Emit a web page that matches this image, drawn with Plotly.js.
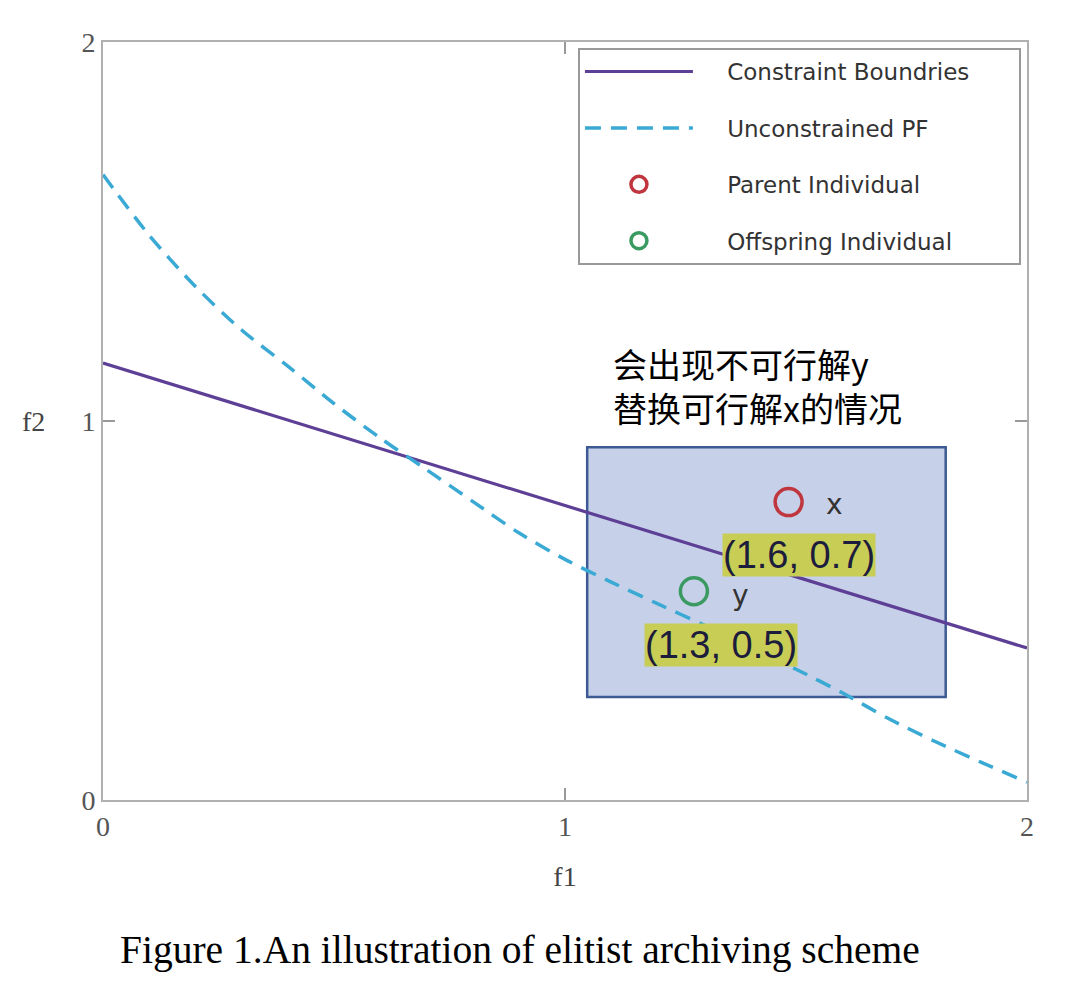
<!DOCTYPE html>
<html>
<head>
<meta charset="utf-8">
<script src="https://cdn.plot.ly/plotly-3.0.1.min.js"></script>
<style>html,body{margin:0;padding:0;background:#fff;}</style>
</head>
<body>
<div id="chart" style="width:1080px;height:988px;"></div>
<script>
// ---- data ----
const boundaryF1 = [0, 2];
const boundaryF2 = [1.153, 0.401];

const pfF1 = [0, 0.1, 0.2, 0.3, 0.4, 0.5, 0.6, 0.7, 0.8, 0.9, 1.0, 1.1, 1.2, 1.3, 1.4, 1.5, 1.6, 1.7, 1.8, 1.9, 2.0];
const pfF2 = [1.65, 1.49, 1.355, 1.24, 1.145, 1.046, 0.955, 0.872, 0.788, 0.705, 0.635, 0.575, 0.518, 0.462, 0.403, 0.345, 0.283, 0.215, 0.155, 0.1, 0.047];

const parentF1 = [1.484];
const parentF2 = [0.786];
const offspringF1 = [1.279];
const offspringF2 = [0.551];

const tickVals = [0, 1, 2];
const tickText = ['0', '1', '2'];

const legendNames = ['Constraint Boundries', 'Unconstrained PF', 'Parent Individual', 'Offspring Individual'];
const noteText = '会出现不可行解y<br>替换可行解x的情况';
const parentCoordLabel = '(1.6, 0.7)';
const offspringCoordLabel = '(1.3, 0.5)';
const captionText = 'Figure 1.An illustration of elitist archiving scheme';

const pad = '\u00a0\u00a0\u00a0\u00a0';
const tailPad = '\u00a0\u00a0\u00a0\u00a0\u00a0\u00a0';

// ---- traces ----
const traces = [
  {
    x: boundaryF1, y: boundaryF2, type: 'scatter', mode: 'lines',
    name: pad + legendNames[0] + tailPad, legendgroup: 'g1',
    line: {color: '#5e3f96', width: 3.2}
  },
  {
    x: pfF1, y: pfF2, type: 'scatter', mode: 'lines',
    name: pad + legendNames[1], legendgroup: 'g2',
    line: {color: '#3aa9d4', width: 3.5, dash: '16px,10px', shape: 'spline', smoothing: 0.8}
  },
  {
    x: parentF1, y: parentF2, type: 'scatter', mode: 'markers',
    name: pad + legendNames[2], legendgroup: 'g3',
    marker: {symbol: 'circle-open', size: 27, color: '#c0363f', line: {width: 3.5, color: '#c0363f'}}
  },
  {
    x: offspringF1, y: offspringF2, type: 'scatter', mode: 'markers',
    name: pad + legendNames[3], legendgroup: 'g4',
    marker: {symbol: 'circle-open', size: 27, color: '#3a9a62', line: {width: 3.5, color: '#3a9a62'}}
  }
];

const axisCommon = {
  range: [0, 2],
  tickvals: tickVals,
  ticktext: tickText,
  ticks: 'inside',
  ticklen: 12,
  tickwidth: 1.5,
  tickcolor: '#999',
  showline: true,
  linecolor: '#b0b0b0',
  linewidth: 2,
  mirror: 'ticks',
  showgrid: false,
  zeroline: false,
  tickfont: {family: 'Liberation Serif, serif', size: 28, color: '#555'}
};

const layout = {
  width: 1080,
  height: 988,
  margin: {l: 103, r: 53, t: 42, b: 188},
  paper_bgcolor: '#fff',
  plot_bgcolor: '#fff',
  showlegend: true,
  xaxis: Object.assign({}, axisCommon, {
    title: {text: 'f1', font: {family: 'Liberation Serif, serif', size: 28, color: '#444'}, standoff: 26}
  }),
  yaxis: Object.assign({}, axisCommon, {}),
  legend: {
    x: 0.514, y: 0.992, xanchor: 'left', yanchor: 'top',
    bgcolor: '#fff', bordercolor: '#999', borderwidth: 2,
    font: {family: 'DejaVu Sans, sans-serif', size: 23, color: '#333'},
    itemwidth: 108,
    traceorder: 'grouped',
    tracegroupgap: 23.5
  },
  shapes: [
    {
      type: 'rect', xref: 'x', yref: 'y', layer: 'below',
      x0: 1.048, x1: 1.824, y0: 0.272, y1: 0.931,
      fillcolor: '#c6d0e8', line: {color: '#3d5a94', width: 2.5}
    }
  ],
  annotations: [
    {
      text: noteText, xref: 'x', yref: 'y', x: 1.10, y: 1.093,
      xanchor: 'left', yanchor: 'middle', align: 'left', showarrow: false,
      font: {family: 'Noto Sans CJK SC, sans-serif', size: 34, color: '#000'}
    },
    {
      text: 'x', xref: 'x', yref: 'y', x: 1.584, y: 0.78, showarrow: false,
      font: {family: 'DejaVu Sans, sans-serif', size: 28, color: '#333'}
    },
    {
      text: 'y', xref: 'x', yref: 'y', x: 1.379, y: 0.54, showarrow: false,
      font: {family: 'DejaVu Sans, sans-serif', size: 28, color: '#333'}
    },
    {
      text: parentCoordLabel, xref: 'x', yref: 'y', x: 1.506, y: 0.646, showarrow: false,
      bgcolor: '#c8cd55', borderpad: 0,
      font: {family: 'Liberation Sans, Arial, sans-serif', size: 38, color: '#1c1c3c'}
    },
    {
      text: offspringCoordLabel, xref: 'x', yref: 'y', x: 1.338, y: 0.409, showarrow: false,
      bgcolor: '#c8cd55', borderpad: 0,
      font: {family: 'Liberation Sans, Arial, sans-serif', size: 38, color: '#1c1c3c'}
    },
    {
      text: 'f2', xref: 'paper', yref: 'paper', x: -0.09, y: 0.5, showarrow: false,
      font: {family: 'Liberation Serif, serif', size: 28, color: '#444'}
    },
    {
      text: captionText, xref: 'paper', yref: 'paper', x: 0.451, y: -0.198,
      xanchor: 'center', yanchor: 'middle', showarrow: false,
      font: {family: 'Liberation Serif, Times New Roman, serif', size: 39.5, color: '#000'}
    }
  ]
};

Plotly.newPlot('chart', traces, layout, {displayModeBar: false, staticPlot: true});
</script>
</body>
</html>
